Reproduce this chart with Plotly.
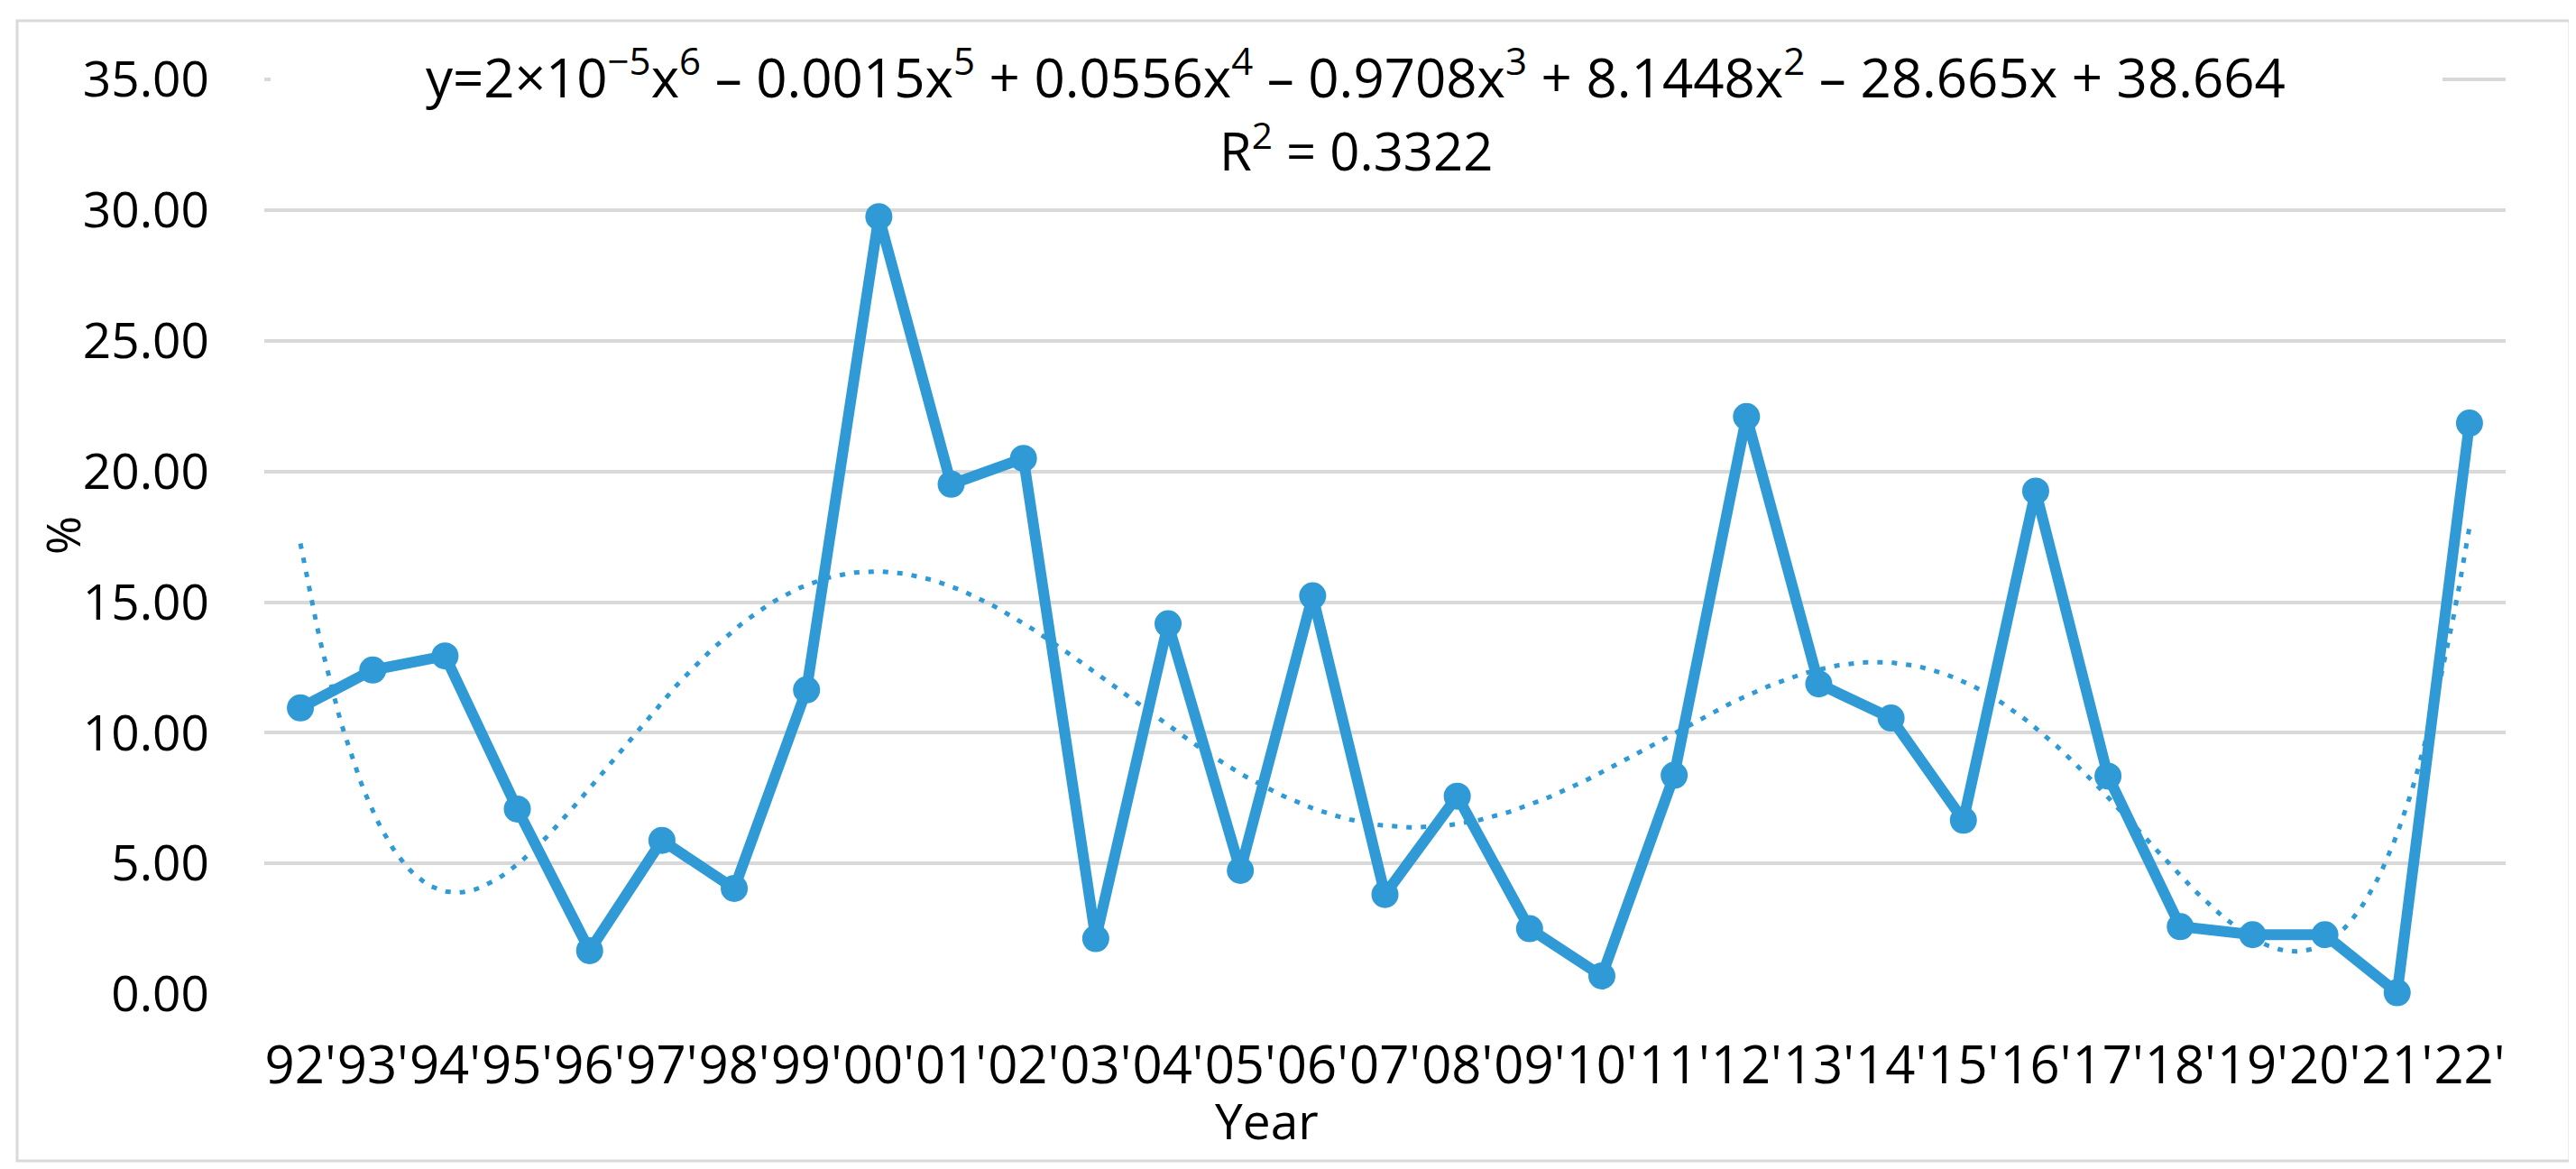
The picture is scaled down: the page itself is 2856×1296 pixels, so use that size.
import numpy as np
import plotly.graph_objects as go

# ---- data ----
years = ["92'", "93'", "94'", "95'", "96'", "97'", "98'", "99'", "00'", "01'",
         "02'", "03'", "04'", "05'", "06'", "07'", "08'", "09'", "10'", "11'",
         "12'", "13'", "14'", "15'", "16'", "17'", "18'", "19'", "20'", "21'", "22'"]
values = [10.95, 12.40, 12.94, 7.08, 1.66, 5.88, 4.04, 11.64, 29.75, 19.51,
          20.50, 2.12, 14.17, 4.73, 15.24, 3.81, 7.57, 2.50, 0.69, 8.37,
          22.10, 11.87, 10.56, 6.65, 19.25, 8.34, 2.58, 2.27, 2.27, 0.05, 21.85]
y_ticks = [0, 5, 10, 15, 20, 25, 30, 35]
eq_text = ("y=2×10<sup>−5</sup>x<sup>6</sup> – 0.0015x<sup>5</sup> + 0.0556x<sup>4</sup>"
           " – 0.9708x<sup>3</sup> + 8.1448x<sup>2</sup> – 28.665x + 38.664")
r2_text = "R<sup>2</sup> = 0.3322"

# ---- geometry ----
W, H = 2856, 1296
PL, PR, PT, PB = 285, 2770, 79, 1094
FONT = "Open Sans, Liberation Sans, sans-serif"
BLUE = "#2f9ad6"

def px(x):
    return (x - PL) / (PR - PL)

def py(y):
    return (PB - y) / (PB - PT)

xs = np.arange(1, len(years) + 1)
coef = np.polyfit(xs, values, 6)
xf = np.linspace(1, len(years), 400)
yf = np.polyval(coef, xf)

fig = go.Figure()
fig.add_trace(go.Scatter(
    x=xf, y=yf, mode="lines",
    line=dict(color=BLUE, width=5, dash="6px,10px"),
    hoverinfo="skip", showlegend=False, cliponaxis=False))
fig.add_trace(go.Scatter(
    x=xs, y=values, mode="lines+markers",
    line=dict(color=BLUE, width=12),
    marker=dict(color=BLUE, size=30),
    showlegend=False, cliponaxis=False))

fig.update_layout(
    width=W, height=H,
    margin=dict(l=PL, r=W - PR, t=PT, b=H - PB, pad=0),
    paper_bgcolor="white", plot_bgcolor="white",
    font=dict(family=FONT, color="#000000", size=58),
    xaxis=dict(range=[0.5, len(years) + 0.5], tickmode="array",
               tickvals=list(xs), ticktext=years, tickangle=0,
               showgrid=False, zeroline=False, showline=False,
               ticks="", ticklabelstandoff=40,
               tickfont=dict(size=58, family=FONT, color="#000000")),
    yaxis=dict(range=[0, 35.04], tickmode="array", tickvals=y_ticks,
               tickformat=".2f", showgrid=True, gridcolor="#d9d9d9",
               gridwidth=4, zeroline=False, showline=False, ticks="",
               ticklabelstandoff=60,
               tickfont=dict(size=55, family=FONT, color="#000000")),
    shapes=[
        dict(type="rect", xref="paper", yref="paper",
             x0=px(11), x1=px(2841), y0=py(1279), y1=py(15),
             line=dict(color="#d9d9d9", width=3), fillcolor="rgba(0,0,0,0)",
             layer="below"),
        # white background of the trendline label (hides part of the top gridline)
        dict(type="rect", xref="paper", yref="paper",
             x0=px(292), x1=px(2700), y0=py(112), y1=py(40),
             line=dict(width=0), fillcolor="white", layer="above"),
    ],
    annotations=[
        dict(text=eq_text, xref="paper", yref="paper", x=px(1495), y=py(74),
             xanchor="center", yanchor="middle", showarrow=False,
             font=dict(size=60, family=FONT, color="#000000")),
        dict(text=r2_text, xref="paper", yref="paper", x=px(1495), y=py(156),
             xanchor="center", yanchor="middle", showarrow=False,
             font=dict(size=58, family=FONT, color="#000000")),
        dict(text="Year", xref="paper", yref="paper", x=px(1396), y=py(1233),
             xanchor="center", yanchor="middle", showarrow=False,
             font=dict(size=55, family=FONT, color="#000000")),
        dict(text="%", xref="paper", yref="paper", x=px(60), y=py(586),
             xanchor="center", yanchor="middle", showarrow=False, textangle=-90,
             font=dict(size=52, family=FONT, color="#000000")),
    ],
)

fig.write_html("out.html")
